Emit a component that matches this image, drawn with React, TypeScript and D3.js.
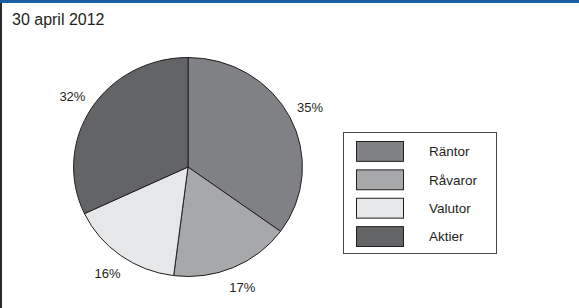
import { useEffect, useRef } from 'react'
import * as d3 from 'd3'

const categories = ['Räntor', 'Råvaror', 'Valutor', 'Aktier']
const shares = [35, 17, 16, 32]
const colors = ['#808184', '#a7a8aa', '#e6e7e8', '#636466']
const title = '30 april 2012'

export default function App() {
  const svgRef = useRef<SVGSVGElement | null>(null)

  useEffect(() => {
    const svg = d3.select(svgRef.current)
    svg.selectAll('*').remove()

    const W = 579
    const H = 308
    const font = 'Liberation Sans, Arial, Helvetica, sans-serif'
    const ink = '#231f20'

    svg.attr('width', W).attr('height', H)

    // frame: blue rule on top, dark rule on the left
    svg.append('rect').attr('x', 0).attr('y', 0).attr('width', W).attr('height', H).attr('fill', '#fff')
    svg.append('rect').attr('x', 0).attr('y', 0).attr('width', W).attr('height', 3).attr('fill', '#1b5ea6')
    svg.append('rect').attr('x', 0).attr('y', 3).attr('width', 2).attr('height', H - 3).attr('fill', '#2b2b2b')

    svg.append('text')
      .attr('x', 12).attr('y', 24.5)
      .attr('font-family', font).attr('font-size', 16)
      .attr('fill', ink)
      .text(title)

    // pie, slightly wider than tall like the source
    const cx = 188
    const cy = 167
    const r = 109.5
    const sx = 1.045

    const pie = d3.pie<number>().sort(null).value(d => d)
    const arcs = pie(shares)
    const arc = d3.arc<d3.PieArcDatum<number>>().innerRadius(0).outerRadius(r)
    const labelArc = d3.arc<d3.PieArcDatum<number>>().innerRadius(131).outerRadius(131)

    const g = svg.append('g').attr('transform', `translate(${cx},${cy}) scale(${sx},1)`)
    g.selectAll('path')
      .data(arcs)
      .join('path')
      .attr('d', arc)
      .attr('fill', (_, i) => colors[i])
      .attr('stroke', ink)
      .attr('stroke-width', 1)
      .attr('vector-effect', 'non-scaling-stroke')

    svg.append('g')
      .selectAll('text')
      .data(arcs)
      .join('text')
      .attr('x', d => cx + labelArc.centroid(d)[0] * sx)
      .attr('y', d => cy + labelArc.centroid(d)[1])
      .attr('dy', '0.35em')
      .attr('text-anchor', 'middle')
      .attr('font-family', font).attr('font-size', 13)
      .attr('fill', ink)
      .text(d => `${d.data}%`)

    // legend
    const lx = 343.5
    const ly = 132.5
    const lw = 153
    const lh = 121
    svg.append('rect')
      .attr('x', lx).attr('y', ly).attr('width', lw).attr('height', lh)
      .attr('fill', '#fff').attr('stroke', '#4a4a4a').attr('stroke-width', 1)

    const rowY = d3.scaleBand<string>()
      .domain(categories)
      .range([141.5, 246.5])
      .paddingInner(0.3)
      .paddingOuter(0)
    const item = svg.append('g')
      .selectAll('g')
      .data(categories)
      .join('g')
      .attr('transform', d => `translate(0,${rowY(d)})`)

    item.append('rect')
      .attr('x', 356.5).attr('y', 0)
      .attr('width', 47).attr('height', rowY.bandwidth())
      .attr('fill', (_, i) => colors[i])
      .attr('stroke', ink).attr('stroke-width', 1)

    item.append('text')
      .attr('x', 429)
      .attr('y', rowY.bandwidth() / 2)
      .attr('dy', '0.35em')
      .attr('font-family', font).attr('font-size', 13.5)
      .attr('fill', ink)
      .text(d => d)
  }, [])

  return (
    <div style={{ position: 'fixed', left: 0, top: 0 }}>
      <svg ref={svgRef} style={{ display: 'block' }} />
    </div>
  )
}
